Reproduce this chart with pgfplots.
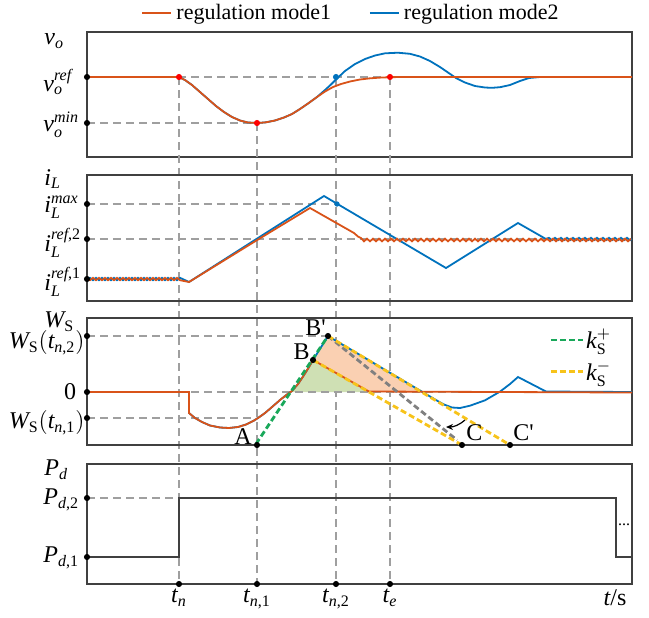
\documentclass[border=0pt]{standalone}
\usepackage{fontspec}
\setmainfont{Liberation Serif}
\usepackage{amsmath}
\usepackage{pgfplots}
\pgfplotsset{compat=1.18}
\usetikzlibrary{arrows.meta}
\definecolor{mOrange}{HTML}{D95319}
\definecolor{mBlue}{HTML}{0072BD}
\definecolor{kGreen}{HTML}{19A85A}
\definecolor{kYellow}{HTML}{F7C31A}
\definecolor{fGreen}{HTML}{CFE0B4}
\definecolor{fPeach}{HTML}{FAD0B2}
\definecolor{frameC}{HTML}{404040}
\newcommand\mi[1]{\textit{#1}}
\pgfplotsset{
 panel/.style={scale only axis, width=272.5pt, xmin=87, xmax=632, y dir=reverse,
   xtick=\empty, ytick=\empty, clip=false, axis line style={frameC, line width=0.8pt}},
 gdash/.style={gray!75, line width=0.6pt, dash pattern=on 4pt off 2.5pt},
 dot/.style={only marks, mark=*, mark size=1.3pt},
 cur/.style={line width=0.9pt},
}
\tikzset{ylab/.style={anchor=west, font=\fontsize{12}{14}\selectfont, inner sep=0pt},
 tlab/.style={anchor=north, font=\fontsize{12}{14}\selectfont, inner sep=0pt}}
\begin{document}
\begin{tikzpicture}
\path[use as bounding box] (0,0) rectangle (324.5pt,-308.5pt);
% ---------------- Panel 1 : v_o
\begin{axis}[panel, at={(43.5pt,-16pt)}, anchor=north west, height=62.5pt, ymin=32, ymax=157,
 legend style={at={(axis cs:352,13)}, anchor=center, draw=none, fill=none, legend columns=2,
   font=\fontsize{11}{13}\selectfont, /tikz/every even column/.append style={column sep=17pt}},
 legend image code/.code={\draw[#1] (0pt,0pt) -- (14.5pt,0pt);}]
\addlegendimage{mOrange, line width=1pt}
\addlegendimage{mBlue, line width=1pt}
\legend{regulation mode1, regulation mode2}
% long vertical dashed lines through all panels
\addplot[gdash] coordinates {(179,77) (179,584)};
\addplot[gdash] coordinates {(257,123) (257,584)};
\addplot[gdash] coordinates {(336,77) (336,584)};
\addplot[gdash] coordinates {(390,77) (390,584)};
\addplot[gdash] coordinates {(87,77) (390,77)};
\addplot[gdash] coordinates {(87,123) (257,123)};
% blue
\addplot[mBlue, cur] coordinates {(87,77) (179,77) (185,80) (192,85) (200,92) (208,99) (216,106) (224,112) (232,117) (240,120.5) (248,122.5) (258,123) (266,122.3) (275,120.5) (284,117.5) (292,114) (300,109) (308,103.5) (317,97) (325,90) (331,84.5) (337,78.5) (345,71) (355,64) (365,59) (375,55.5) (385,53.3) (398,52.7) (410,53.8) (420,56.5) (430,61) (440,67) (448,72.5) (456,78) (465,82.5) (475,86) (485,87.5) (492,87.8) (500,87.2) (510,85) (520,81) (529,78) (540,77) (632,77)};
% orange
\addplot[mOrange, cur] coordinates {(87,77) (179,77) (185,80) (192,85) (200,92) (208,99) (216,106) (224,112) (232,117) (240,120.5) (248,122.5) (258,123) (266,122.3) (275,120.5) (284,117.5) (292,114) (300,109) (308,103.5) (317,97) (325,91.5) (333,87) (341,84) (350,81.5) (360,79.5) (370,78.3) (380,77.6) (390,77.2) (400,77) (632,77)};
\addplot[dot, black] coordinates {(87,77) (87,123)};
\addplot[dot, red] coordinates {(179,77) (257,123) (390,77)};
\addplot[dot, mBlue] coordinates {(336,77)};
\node[ylab] at (axis cs:44,41) {$\mi{v}_{\mi{o}}$};
\node[ylab] at (axis cs:43,82) {$\mi{v}_{\mi{o}}^{\mi{ref}}$};
\node[ylab] at (axis cs:43,125) {$\mi{v}_{\mi{o}}^{\mi{min}}$};
\end{axis}
% ---------------- Panel 2 : i_L
\begin{axis}[panel, at={(43.5pt,-87.5pt)}, anchor=north west, height=63pt, ymin=175, ymax=301]
\addplot[gdash] coordinates {(87,204) (337,204)};
\addplot[gdash] coordinates {(87,239) (632,239)};
% blue
\addplot[mBlue, cur] coordinates {(87,279) (90,277.8) (93,280.2) (96,277.8) (99,280.2) (102,277.8) (105,280.2) (108,277.8) (111,280.2) (114,277.8) (117,280.2) (120,277.8) (123,280.2) (126,277.8) (129,280.2) (132,277.8) (135,280.2) (138,277.8) (141,280.2) (144,277.8) (147,280.2) (150,277.8) (153,280.2) (156,277.8) (159,280.2) (162,277.8) (165,280.2) (168,277.8) (171,280.2) (174,277.8) (177,280.2) (180,277.8)
 (189,282) (258,238) (324,196) (337,203.7) (446,268) (518,223) (546,239)
 (549,237.8) (552,240.2) (555,237.8) (558,240.2) (561,237.8) (564,240.2) (567,237.8) (570,240.2) (573,237.8) (576,240.2) (579,237.8) (582,240.2) (585,237.8) (588,240.2) (591,237.8) (594,240.2) (597,237.8) (600,240.2) (603,237.8) (606,240.2) (609,237.8) (612,240.2) (615,237.8) (618,240.2) (621,237.8) (624,240.2) (627,237.8) (630,240.2) (632,239)};
% orange
\addplot[mOrange, cur] coordinates {(87,279) (90,280.2) (93,277.8) (96,280.2) (99,277.8) (102,280.2) (105,277.8) (108,280.2) (111,277.8) (114,280.2) (117,277.8) (120,280.2) (123,277.8) (126,280.2) (129,277.8) (132,280.2) (135,277.8) (138,280.2) (141,277.8) (144,280.2) (147,277.8) (150,280.2) (153,277.8) (156,280.2) (159,277.8) (162,280.2) (165,277.8) (168,280.2) (171,277.8) (174,280.2) (177,277.8) (180,280.2)
 (189,282) (258,239.5) (310,208) (354,233) (358,236.5) (361,238)
 (364,241.3) (367,238.7) (370,241.3) (373,238.7) (376,241.3) (379,238.7) (382,241.3) (385,238.7) (388,241.3) (391,238.7) (394,241.3) (397,238.7) (400,241.3) (403,238.7) (406,241.3) (409,238.7) (412,241.3) (415,238.7) (418,241.3) (421,238.7) (424,241.3) (427,238.7) (430,241.3) (433,238.7) (436,241.3) (439,238.7) (442,241.3) (445,238.7) (448,241.3) (451,238.7) (454,241.3) (457,238.7) (460,241.3) (463,238.7) (466,241.3) (469,238.7) (472,241.3) (475,238.7) (478,241.3) (481,238.7) (484,241.3) (487,238.7) (490,241.3) (493,238.7) (496,241.3) (499,238.7) (502,241.3) (505,238.7) (508,241.3) (511,238.7) (514,241.3) (517,238.7) (520,241.3) (523,238.7) (526,241.3) (529,238.7) (532,241.3) (535,238.7) (538,241.3) (541,238.7) (544,241.3) (547,238.7) (550,241.3) (553,238.7) (556,241.3) (559,238.7) (562,241.3) (565,238.7) (568,241.3) (571,238.7) (574,241.3) (577,238.7) (580,241.3) (583,238.7) (586,241.3) (589,238.7) (592,241.3) (595,238.7) (598,241.3) (601,238.7) (604,241.3) (607,238.7) (610,241.3) (613,238.7) (616,241.3) (619,238.7) (622,241.3) (625,238.7) (628,241.3) (631,238.7)};
\addplot[dot, black] coordinates {(87,204) (87,239) (87,279)};
\addplot[dot, mBlue, mark size=1.1pt] coordinates {(337,204)};
\node[ylab] at (axis cs:44,179) {$\mi{i}_{\mi{L}}$};
\node[ylab] at (axis cs:44,207) {$\mi{i}_{\mi{L}}^{\mi{max}}$};
\node[ylab] at (axis cs:44,243) {$\mi{i}_{\mi{L}}^{\mi{ref}\textup{,2}}$};
\node[ylab] at (axis cs:44,282) {$\mi{i}_{\mi{L}}^{\mi{ref}\textup{,1}}$};
\end{axis}
% ---------------- Panel 3 : W_S
\begin{axis}[panel, at={(43.5pt,-159pt)}, anchor=north west, height=63.5pt, ymin=318, ymax=445,
 legend style={at={(axis cs:543,322)}, anchor=north west, draw=none, fill=none,
   font=\fontsize{12}{14}\selectfont, row sep=2.5pt, nodes={inner sep=1pt}},
 legend image code/.code={\draw[#1] (0pt,0pt) -- (16pt,0pt);}]
\addlegendimage{kGreen, line width=1.4pt, dash pattern=on 3pt off 1.6pt}
\addlegendimage{kYellow, line width=1.4pt, dash pattern=on 3pt off 1.6pt}
\legend{$\mi{k}_{\textup{S}}^{+}$, $\mi{k}_{\textup{S}}^{-}$}
\addplot[fill=fGreen, draw=none] coordinates {(292,392) (298,384) (304,375) (309,367) (313,360) (369,392)};
\addplot[fill=fPeach, draw=none] coordinates {(313,360) (328,336) (422,392) (369,392)};
\addplot[gdash] coordinates {(87,336) (328,336)};
\addplot[gdash] coordinates {(87,392) (632,392)};
\addplot[gdash] coordinates {(87,418) (256,418)};
% blue
\addplot[mBlue, cur] coordinates {(87,392) (189,392) (189,413) (195,418) (202,422) (210,425.5) (220,427.5) (229,428) (238,427) (246,424.5) (254,420.5) (258,418) (265,413) (272,407) (280,400) (287,394.5) (292,391) (298,384) (304,375) (309,367) (313,360) (328,336) (437,400.6) (444,404.5) (452,407.5) (460,408) (470,405.7) (485,400.3) (500,391.6) (510,384) (518,377) (546,391.5) (632,392)};
% orange
\addplot[mOrange, cur] coordinates {(87,392) (189,392) (189,413) (195,418) (202,422) (210,425.5) (220,427.5) (229,428) (238,427) (246,424.5) (254,420.5) (258,418) (265,413) (272,407) (280,400) (287,394.5) (292,391) (298,384) (304,375) (309,367) (313,360) (369,391.5) (632,392.5)};
% slope lines
\addplot[gray, line width=1.4pt, dash pattern=on 3pt off 1.6pt] coordinates {(328,336) (457,440)};
\addplot[kGreen, line width=1.4pt, dash pattern=on 3pt off 1.6pt] coordinates {(256,444) (328,336)};
\addplot[kYellow, line width=1.4pt, dash pattern=on 3pt off 1.6pt] coordinates {(313,360) (462,445)};
\addplot[kYellow, line width=1.4pt, dash pattern=on 3pt off 1.6pt] coordinates {(328,336) (510,445)};
\draw[-{Stealth[length=3.5pt,width=3pt]}, line width=0.6pt] (axis cs:465,420) to[bend left=20] (axis cs:446,427);
\addplot[dot, black] coordinates {(87,336) (87,392) (87,418) (257,445) (313,360) (328,336) (462,445) (510,445)};
\node[ylab] at (axis cs:44,322) {$\mi{W}_{\textup{S}}$};
\node[ylab, anchor=east] at (axis cs:85,343) {$\mi{W}_{\textup{S}}(\mi{t}_{\mi{n}\textup{,2}})$};
\node[ylab, anchor=center] at (axis cs:70,392) {0};
\node[ylab, anchor=east] at (axis cs:85,423) {$\mi{W}_{\textup{S}}(\mi{t}_{\mi{n}\textup{,1}})$};
\node[ylab, anchor=east] at (axis cs:252,437) {A};
\node[ylab, anchor=east] at (axis cs:310,352) {B};
\node[ylab, anchor=east] at (axis cs:326,328) {B\textquotesingle};
\node[ylab] at (axis cs:466,433) {C};
\node[ylab] at (axis cs:513,433) {C\textquotesingle};
\end{axis}
% ---------------- Panel 4 : P_d
\begin{axis}[panel, at={(43.5pt,-232pt)}, anchor=north west, height=60pt, ymin=464, ymax=584]
\addplot[gdash] coordinates {(87,498) (179,498)};
\addplot[frameC, line width=0.8pt] coordinates {(87,557) (179,557) (179,498) (616,498) (616,557) (632,557)};
\addplot[dot, black] coordinates {(87,498) (87,557) (179,584) (257,584) (336,584) (390,584)};
\node[ylab] at (axis cs:44,470) {$\mi{P}_{\mi{d}}$};
\node[ylab] at (axis cs:43,500) {$\mi{P}_{\mi{d}\textup{,2}}$};
\node[ylab] at (axis cs:43,558) {$\mi{P}_{\mi{d}\textup{,1}}$};
\node[font=\fontsize{8}{8}\selectfont] at (axis cs:624,525) {...};
\node[tlab] at (axis cs:179,589) {$\mi{t}_{\mi{n}}$};
\node[tlab] at (axis cs:257,589) {$\mi{t}_{\mi{n}\textup{,1}}$};
\node[tlab] at (axis cs:336,589) {$\mi{t}_{\mi{n}\textup{,2}}$};
\node[tlab] at (axis cs:390,589) {$\mi{t}_{\mi{e}}$};
\node[tlab] at (axis cs:615,589) {$\mi{t}$/s};
\end{axis}
\end{tikzpicture}
\end{document}
